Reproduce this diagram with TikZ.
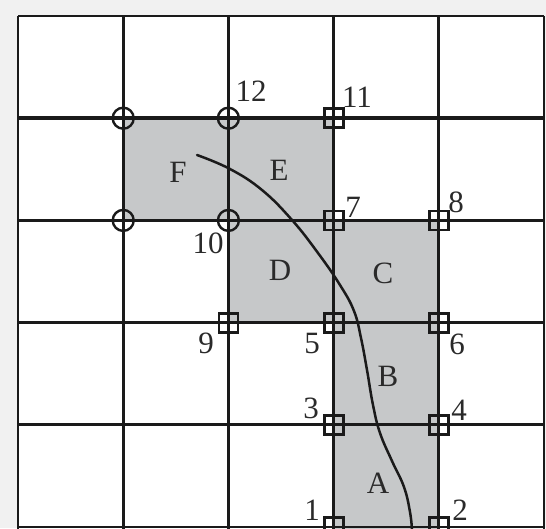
\documentclass[tikz,border=0pt]{standalone}
\usepackage{fontspec}
\setmainfont{Liberation Serif}
\usetikzlibrary{positioning}
\definecolor{bgc}{HTML}{F1F1F1}
\definecolor{zonec}{HTML}{C6C8C9}
\definecolor{inkc}{HTML}{1A1A1A}
\definecolor{txtc}{HTML}{2A2A2A}

\begin{document}
\begin{tikzpicture}[x=1pt,y=-1pt,gridl/.style={draw=inkc,line width=2.8pt},zone/.style={fill=zonec,draw=none},hole/.style={circle,draw=inkc,line width=2.4pt,minimum size=21pt,inner sep=0pt},sq/.style={rectangle,draw=inkc,line width=2.8pt,minimum size=19pt,inner sep=0pt},num/.style={font=\fontsize{31}{31}\selectfont,text=txtc,inner sep=0pt},path/.style={draw=inkc,line width=2.5pt,line cap=round}]
\useasboundingbox (0,0) rectangle (546,528);
\fill[bgc] (0,0) rectangle (546,528);
\fill[white] (18,16) rectangle (544,530);
% shaded cells along the path
\fill[zone] (123.2,118.2) rectangle (333.6,220.4);
\fill[zone] (228.4,220.4) rectangle (438.8,322.6);
\fill[zone] (333.6,322.6) rectangle (438.8,530);
% grid
\foreach \x in {18,123.2,228.4,333.6,438.8,544} \draw[gridl] (\x,16) -- (\x,532);
\foreach \y in {16,220.4,322.6,424.8,527} \draw[gridl] (18,\y) -- (544,\y);
\draw[gridl,line width=3.6pt] (18,118.2) -- (544,118.2);
% cell letters
\node[num] (F) at (178,172) {F};
\node[num] (E) at (279,170) {E};
\node[num] (D) at (280,270) {D};
\node[num] (C) at (383,273) {C};
\node[num] (B) at (388,376) {B};
\node[num] (A) at (378,483) {A};
% the curve
\draw[path] plot[smooth,tension=.7] coordinates {(197,155) (230,169) (262,190) (292,220) (318,253) (340,285) (354,311) (361,338) (367,370) (373,405) (380,433) (392,461) (404,487) (410,512) (412,530)};
% grid points
\node[hole] (pa) at (123.2,118.2) {};
\node[hole] (p12) at (228.4,118.2) {};
\node[hole] (pb) at (123.2,220.4) {};
\node[hole] (p10) at (228.4,220.4) {};
\node[sq] (p11) at (333.6,118.2) {};
\node[sq] (p7) at (333.6,220.4) {};
\node[sq] (p8) at (438.8,220.4) {};
\node[sq] (p9) at (228.4,322.6) {};
\node[sq] (p5) at (333.6,322.6) {};
\node[sq] (p6) at (438.8,322.6) {};
\node[sq] (p3) at (333.6,424.8) {};
\node[sq] (p4) at (438.8,424.8) {};
\node[sq] (p1) at (333.6,527) {};
\node[sq] (p2) at (438.8,527) {};
% point numbers
\node[num] (n12) at (251,91) {12};
\node[num] (n11) at (357,97) {11};
\node[num] (n7) at (353,207) {7};
\node[num] (n8) at (456,202) {8};
\node[num] (n10) at (208,243) {10};
\node[num] (n9) at (206,343) {9};
\node[num] (n5) at (312,343) {5};
\node[num] (n6) at (457,344) {6};
\node[num] (n3) at (311,408) {3};
\node[num] (n4) at (459,410) {4};
\node[num] (n1) at (312,510) {1};
\node[num] (n2) at (460,510) {2};
\end{tikzpicture}
\end{document}
